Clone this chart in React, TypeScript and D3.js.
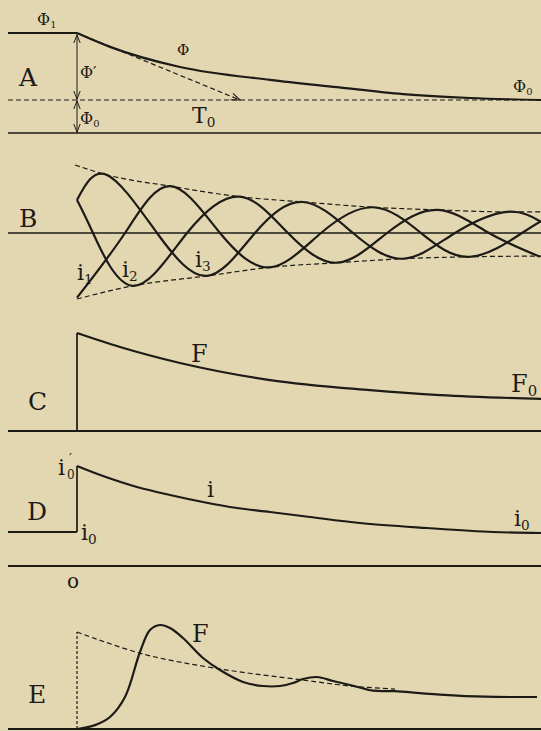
import React from "react";
import * as d3 from "d3";

const W = 541;
const H = 731;
const INK = "#1d1b17";
const PAPER = "#e3d7b1";
const FONT = "'DejaVu Serif', 'Liberation Serif', serif";

// time axis, in cycles of armature current; t = 0 is the instant of short circuit
const T_START = -0.345;
const T_END = 2.32;

// A: field flux
const fluxT = [0, 0.165, 0.515, 0.965, 1.3, 1.63, 1.965, 2.32];
const fluxV = [3.03, 2.61, 2.0, 1.61, 1.39, 1.18, 1.06, 1.0];
const PHI_1 = 3.03;
const PHI_0 = 1.0;
const T0_END = 0.815;

// B: three armature currents and their envelope
const i1T = [0, 0.15, 0.4, 0.65, 0.89, 1.13, 1.38, 1.63, 1.89, 2.15, 2.32];
const i1V = [0.5, 0.88, 0, -0.65, 0, 0.47, 0, -0.39, 0, 0.32, 0.17];
const i2T = [0, 0.08, 0.28, 0.55, 0.815, 1.055, 1.3, 1.55, 1.805, 2.06, 2.315];
const i2V = [0.5, 0, -0.8, 0, 0.55, 0, -0.45, 0, 0.35, 0, -0.36];
const i3T = [0, 0.24, 0.465, 0.715, 0.965, 1.22, 1.48, 1.72, 1.965, 2.225, 2.32];
const i3V = [-0.98, 0, 0.71, 0, -0.52, 0, 0.39, 0, -0.36, 0, 0.18];
const envUpT = [-0.01, 0.15, 0.465, 0.815, 1.13, 1.48, 1.805, 2.15, 2.32];
const envUpV = [1.03, 0.88, 0.71, 0.55, 0.47, 0.39, 0.35, 0.32, 0.32];
const envLoT = [0, 0.28, 0.65, 0.965, 1.3, 1.63, 1.965, 2.32];
const envLoV = [-1.0, -0.8, -0.65, -0.52, -0.45, -0.39, -0.36, -0.35];

// C: field m.m.f.
const fT = [0, 0.215, 0.515, 0.965, 1.465, 1.815, 2.32];
const fV = [1.0, 0.857, 0.694, 0.52, 0.418, 0.367, 0.327];

// D: field current
const ifT = [0, 0.13, 0.3, 0.465, 0.63, 0.8, 0.965, 1.165, 1.415, 1.75, 2.08, 2.32];
const ifV = [1.0, 0.9, 0.79, 0.71, 0.64, 0.58, 0.54, 0.49, 0.43, 0.38, 0.34, 0.33];
const I_0 = 0.34;

// E: m.m.f. with oscillation, and its mean (dashed)
const eMeanT = [0, 0.33, 0.715, 1.13, 1.365, 1.59];
const eMeanV = [1.0, 0.773, 0.619, 0.505, 0.443, 0.412];
const eT = [0, 0.09, 0.165, 0.24, 0.315, 0.365, 0.415, 0.465, 0.53, 0.63, 0.715, 0.83, 0.93, 1.015, 1.08, 1.13, 1.2, 1.28, 1.365, 1.48, 1.59, 1.715, 1.815, 2.04, 2.3];
const eV = [0, 0.04, 0.124, 0.33, 0.794, 1.02, 1.072, 1.041, 0.938, 0.732, 0.608, 0.485, 0.443, 0.443, 0.474, 0.515, 0.536, 0.495, 0.454, 0.395, 0.39, 0.37, 0.355, 0.333, 0.33];

const zip = (a: number[], b: number[]) => a.map((t, i) => [t, b[i]] as [number, number]);

const x = d3.scaleLinear().domain([T_START, T_END]).range([8, W]);
const yA = d3.scaleLinear().domain([0, 1]).range([133, 100]);
const yB = d3.scaleLinear().domain([0, 1]).range([233, 167]);
const yC = d3.scaleLinear().domain([0, 1]).range([431, 333]);
const yD = d3.scaleLinear().domain([0, 1]).range([566, 466]);
const yE = d3.scaleLinear().domain([0, 1]).range([729, 632]);

const mk = (y: d3.ScaleLinear<number, number>, curve: d3.CurveFactory = d3.curveMonotoneX) =>
  d3.line<[number, number]>().x(d => x(d[0])).y(d => y(d[1])).curve(curve);

const Lbl = ({ x, y, main, sub, size = 17 }: any) => (
  <text x={x} y={y} fontSize={size} fontFamily={FONT} fill={INK}>
    {main}
    {sub != null && (
      <tspan fontSize={size * 0.62} dy={size * 0.18}>{sub}</tspan>
    )}
  </text>
);

const arrowHead = (tx: number, ty: number, ang: number, len = 8, half = 3.2) => {
  // ang: direction the arrow points to
  const bx = tx - len * Math.cos(ang);
  const by = ty - len * Math.sin(ang);
  const px = -Math.sin(ang) * half;
  const py = Math.cos(ang) * half;
  return `M${bx + px},${by + py}L${tx},${ty}L${bx - px},${by - py}`;
};

export default function App() {
  const lA = mk(yA);
  const lB = mk(yB, d3.curveNatural);
  const lBe = mk(yB);
  const lC = mk(yC);
  const lD = mk(yD, d3.curveCatmullRom);
  const lE = mk(yE, d3.curveCatmullRom);

  const x0 = x(0);
  const xL = x(T_START);
  const xR = x(T_END);

  const tx = x(T0_END), ty = yA(PHI_0);
  const tAng = Math.atan2(ty - yA(PHI_1), tx - x0);

  const solid = { fill: "none", stroke: INK, strokeWidth: 2.2, strokeLinejoin: "round" as const };
  const axis = { stroke: INK, strokeWidth: 1.7 };
  const dash = { fill: "none", stroke: INK, strokeWidth: 1.2, strokeDasharray: "5 3" };

  return (
    <svg width={W} height={H} style={{ position: "absolute", left: 0, top: 0, background: PAPER }}>
      <rect width={W} height={H} fill={PAPER} />

      {/* ---------- A ---------- */}
      <line x1={xL} x2={x0} y1={yA(PHI_1)} y2={yA(PHI_1)} {...axis} strokeWidth={2} />
      <path d={lA(zip(fluxT, fluxV)) || ""} {...solid} />
      <line x1={xL} x2={xR} y1={yA(PHI_0)} y2={yA(PHI_0)} {...dash} />
      <line x1={xL} x2={xR} y1={yA(0)} y2={yA(0)} {...axis} />
      <line x1={x0} x2={tx} y1={yA(PHI_1)} y2={ty} {...dash} />
      <path d={arrowHead(tx, ty, tAng, 9, 3.5)} fill="none" stroke={INK} strokeWidth={1.1} />
      <line x1={x0} x2={x0} y1={yA(PHI_1) + 1} y2={yA(0)} stroke={INK} strokeWidth={1} />
      <path d={arrowHead(x0, yA(PHI_1) + 2, -Math.PI / 2)} fill="none" stroke={INK} strokeWidth={1} />
      <path d={arrowHead(x0, yA(PHI_0) - 1, Math.PI / 2)} fill="none" stroke={INK} strokeWidth={1} />
      <path d={arrowHead(x0, yA(PHI_0) + 1, -Math.PI / 2)} fill="none" stroke={INK} strokeWidth={1} />
      <path d={arrowHead(x0, yA(0) - 1, Math.PI / 2)} fill="none" stroke={INK} strokeWidth={1} />
      <Lbl x={37} y={25} main="Φ" sub="1" size={16} />
      <Lbl x={19} y={86} main="A" size={25} />
      <Lbl x={80} y={78} main="Φ′" size={16} />
      <Lbl x={80} y={124} main="Φ" sub="0" size={16} />
      <Lbl x={192} y={123} main="T" sub="0" size={22} />
      <Lbl x={177} y={55} main="Φ" size={15} />
      <Lbl x={513} y={92} main="Φ" sub="0" size={16} />

      {/* ---------- B ---------- */}
      <line x1={xL} x2={xR} y1={yB(0)} y2={yB(0)} {...axis} strokeWidth={1.6} />
      <path d={lBe(zip(envUpT, envUpV)) || ""} {...dash} />
      <path d={lBe(zip(envLoT, envLoV)) || ""} {...dash} />
      <path d={lB(zip(i1T, i1V)) || ""} {...solid} />
      <path d={lB(zip(i2T, i2V)) || ""} {...solid} />
      <path d={lB(zip(i3T, i3V)) || ""} {...solid} />
      <Lbl x={19} y={227} main="B" size={25} />
      <Lbl x={77} y={280} main="i" sub="1" size={22} />
      <Lbl x={122} y={277} main="i" sub="2" size={22} />
      <Lbl x={195} y={267} main="i" sub="3" size={22} />

      {/* ---------- C ---------- */}
      <line x1={xL} x2={xR} y1={yC(0)} y2={yC(0)} {...axis} strokeWidth={2} />
      <line x1={x0} x2={x0} y1={yC(0)} y2={yC(1)} {...axis} />
      <path d={lC(zip(fT, fV)) || ""} {...solid} />
      <Lbl x={28} y={410} main="C" size={25} />
      <Lbl x={191} y={362} main="F" size={24} />
      <Lbl x={511} y={392} main="F" sub="0" size={24} />

      {/* ---------- D ---------- */}
      <line x1={xL} x2={x0} y1={yD(I_0)} y2={yD(I_0)} {...axis} strokeWidth={2} />
      <line x1={x0} x2={x0} y1={yD(I_0)} y2={yD(1)} {...axis} />
      <path d={lD(zip(ifT, ifV)) || ""} {...solid} />
      <line x1={xL} x2={xR} y1={yD(0)} y2={yD(0)} {...axis} strokeWidth={2} />
      <Lbl x={27} y={520} main="D" size={25} />
      <text x={58} y={475} fontSize={22} fontFamily={FONT} fill={INK}>i</text>
      <text x={67} y={479} fontSize={12} fontFamily={FONT} fill={INK}>0</text>
      <text x={69} y={463} fontSize={13} fontFamily={FONT} fill={INK}>′</text>
      <Lbl x={81} y={540} main="i" sub="0" size={22} />
      <Lbl x={207} y={497} main="i" size={22} />
      <Lbl x={514} y={526} main="i" sub="0" size={22} />
      <text x={67} y={588} fontSize={20} fontFamily={FONT} fill={INK}>o</text>

      {/* ---------- E ---------- */}
      <line x1={xL} x2={xR} y1={yE(0)} y2={yE(0)} {...axis} strokeWidth={2} />
      <line x1={x0} x2={x0} y1={yE(0)} y2={yE(1)} {...dash} strokeDasharray="3 2" />
      <path d={lE(zip(eMeanT, eMeanV)) || ""} {...dash} />
      <path d={lE(zip(eT, eV)) || ""} {...solid} />
      <Lbl x={28} y={703} main="E" size={25} />
      <Lbl x={192} y={642} main="F" size={24} />
    </svg>
  );
}
